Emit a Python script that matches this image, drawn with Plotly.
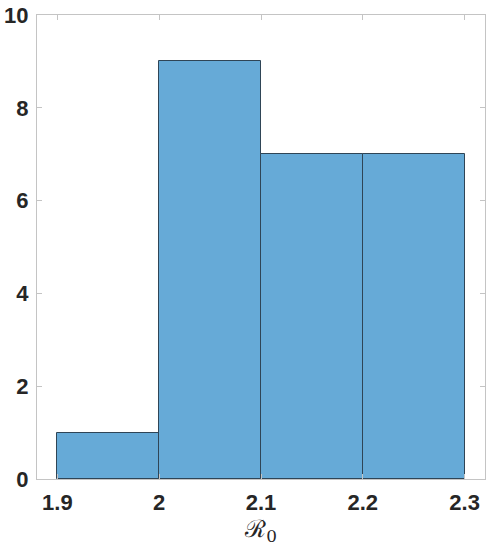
import plotly.graph_objects as pg

# histogram of R0 estimates
bin_edges = [1.9, 2.0, 2.1, 2.2, 2.3]
counts = [1, 9, 7, 7]
x_ticks = [1.9, 2.0, 2.1, 2.2, 2.3]
x_ticklabels = ["1.9", "2", "2.1", "2.2", "2.3"]
y_ticks = [0, 2, 4, 6, 8, 10]

centers = [(a + b) / 2 for a, b in zip(bin_edges[:-1], bin_edges[1:])]
widths = [b - a for a, b in zip(bin_edges[:-1], bin_edges[1:])]

fig = pg.Figure()
fig.add_trace(pg.Bar(x=centers, y=counts, width=widths,
                     marker=dict(color="#66aad7", line=dict(color="#2f4556", width=1))))

axis_common = dict(showline=True, linecolor="#c4c4c4", linewidth=1, mirror="allticks",
                   ticks="inside", ticklen=5, tickcolor="#c4c4c4", showgrid=False, zeroline=False,
                   automargin=False,
                   tickfont=dict(family="Liberation Sans", size=22, color="#262626", weight="bold"))

fig.update_xaxes(range=[1.88, 2.32], tickvals=x_ticks, ticktext=x_ticklabels,
                 title=dict(text="ℛ<sub>0</sub>", font=dict(family="DejaVu Serif", size=24, color="#262626"),
                            standoff=0),
                 ticklabelstandoff=4, **axis_common)
fig.update_yaxes(range=[0, 10], tickvals=y_ticks, ticklabelstandoff=3, **axis_common)

fig.update_layout(width=490, height=550, margin=dict(l=37, r=5, t=15, b=71),
                  paper_bgcolor="white", plot_bgcolor="white", showlegend=False, bargap=0)

# drop the browser's default body margin so the figure fills the window
fig.write_html("out.html", config={"displayModeBar": False},
               post_script="document.body.style.margin='0';document.body.style.overflow='hidden';")
